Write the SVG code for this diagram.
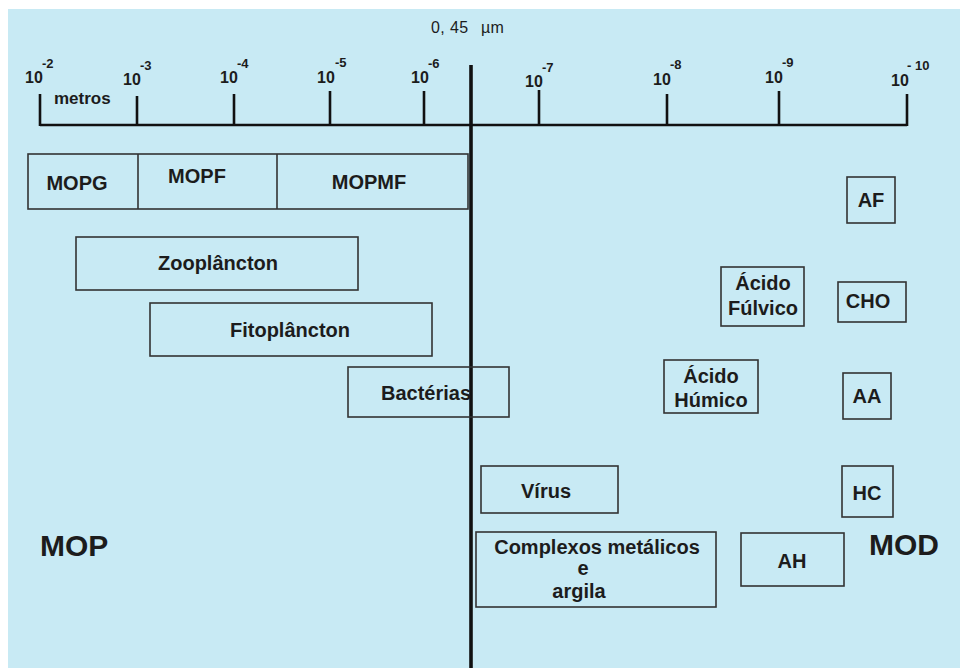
<svg xmlns="http://www.w3.org/2000/svg" width="960" height="668" viewBox="0 0 960 668">
<style>
.lbl{font-family:"Liberation Sans",Arial,sans-serif;font-weight:bold;font-size:20px;fill:#1c1c1c;text-anchor:middle}
.big{font-family:"Liberation Sans",Arial,sans-serif;font-weight:bold;font-size:30px;fill:#1c1c1c}
.ten{font-family:"Liberation Sans",Arial,sans-serif;font-weight:bold;font-size:16px;fill:#1c1c1c}
.exp{font-family:"Liberation Sans",Arial,sans-serif;font-weight:bold;font-size:13px;fill:#1c1c1c}
.box{fill:none;stroke:#333;stroke-width:1.6}
.ax{stroke:#111;stroke-width:2.6;fill:none}
</style>
<rect x="0" y="0" width="960" height="668" fill="#ffffff"/>
<rect x="8" y="9" width="952" height="659" fill="#c8eaf4"/>

<g id="axis">
<line class="ax" x1="40" y1="125" x2="907" y2="125"/>
<line class="ax" x1="40" y1="94" x2="40" y2="126"/>
<line class="ax" x1="137" y1="96" x2="137" y2="126"/>
<line class="ax" x1="234" y1="94" x2="234" y2="126"/>
<line class="ax" x1="330" y1="91" x2="330" y2="126"/>
<line class="ax" x1="424" y1="91" x2="424" y2="126"/>
<line class="ax" x1="539" y1="90" x2="539" y2="126"/>
<line class="ax" x1="667" y1="94" x2="667" y2="126"/>
<line class="ax" x1="779" y1="91" x2="779" y2="126"/>
<line class="ax" x1="907" y1="94" x2="907" y2="126"/>
<text class="ten" x="25" y="83">10</text><text class="exp" x="42" y="68">-2</text>
<text class="ten" x="123" y="85">10</text><text class="exp" x="140" y="70">-3</text>
<text class="ten" x="220" y="83">10</text><text class="exp" x="237" y="68">-4</text>
<text class="ten" x="317" y="83">10</text><text class="exp" x="335" y="67">-5</text>
<text class="ten" x="411" y="83">10</text><text class="exp" x="428" y="68">-6</text>
<text class="ten" x="525" y="87">10</text><text class="exp" x="542" y="72">-7</text>
<text class="ten" x="653" y="85">10</text><text class="exp" x="670" y="69">-8</text>
<text class="ten" x="765" y="83">10</text><text class="exp" x="782" y="67">-9</text>
<text class="ten" x="891" y="86">10</text><text class="exp" x="907" y="70">- 10</text>
<text x="54" y="104" style="font-family:'Liberation Sans',Arial,sans-serif;font-weight:bold;font-size:17px;fill:#1c1c1c">metros</text>
<text x="431" y="33" style="font-family:'Liberation Sans',Arial,sans-serif;font-size:16px;fill:#1c1c1c;letter-spacing:0.4px">0, 45 <tspan x="481">µm</tspan></text>
</g>

<g id="connectors">
<line x1="471" y1="65" x2="471" y2="668" stroke="#111" stroke-width="3.6"/>
</g>

<g id="mop-row">
<rect class="box" x="28" y="154" width="440" height="55"/>
<line class="box" x1="138" y1="154" x2="138" y2="209"/>
<line class="box" x1="277" y1="154" x2="277" y2="209"/>
<text class="lbl" x="77" y="190">MOPG</text>
<text class="lbl" x="197" y="183">MOPF</text>
<text class="lbl" x="369" y="189">MOPMF</text>
</g>

<g id="zooplancton">
<rect class="box" x="76" y="237" width="282" height="53"/>
<text class="lbl" x="218" y="270">Zooplâncton</text>
</g>
<g id="fitoplancton">
<rect class="box" x="150" y="303" width="282" height="53"/>
<text class="lbl" x="290" y="337">Fitoplâncton</text>
</g>
<g id="bacterias">
<rect class="box" x="348" y="367" width="161" height="50"/>
<text class="lbl" x="426" y="400">Bactérias</text>
</g>

<g id="af">
<rect class="box" x="847" y="177" width="48" height="46"/>
<text class="lbl" x="871" y="207">AF</text>
</g>
<g id="acido-fulvico">
<rect class="box" x="721" y="267" width="83" height="59"/>
<text class="lbl" x="763" y="290">Ácido</text>
<text class="lbl" x="763" y="315">Fúlvico</text>
</g>
<g id="cho">
<rect class="box" x="838" y="282" width="68" height="40"/>
<text class="lbl" x="868" y="308">CHO</text>
</g>
<g id="acido-humico">
<rect class="box" x="664" y="360" width="94" height="53"/>
<text class="lbl" x="711" y="383">Ácido</text>
<text class="lbl" x="711" y="407">Húmico</text>
</g>
<g id="aa">
<rect class="box" x="843" y="373" width="48" height="46"/>
<text class="lbl" x="867" y="403">AA</text>
</g>

<g id="virus">
<rect class="box" x="481" y="466" width="137" height="47"/>
<text class="lbl" x="546" y="498">Vírus</text>
</g>
<g id="hc">
<rect class="box" x="842" y="466" width="51" height="51"/>
<text class="lbl" x="867" y="500">HC</text>
</g>
<g id="complexos">
<rect class="box" x="476" y="532" width="240" height="75"/>
<text class="lbl" x="597" y="554">Complexos metálicos</text>
<text class="lbl" x="583" y="575">e</text>
<text class="lbl" x="579" y="598">argila</text>
</g>
<g id="ah">
<rect class="box" x="741" y="533" width="103" height="53"/>
<text class="lbl" x="792" y="568">AH</text>
</g>

<g id="labels">
<text class="big" x="40" y="556">MOP</text>
<text class="big" x="869" y="555">MOD</text>
</g>
</svg>
